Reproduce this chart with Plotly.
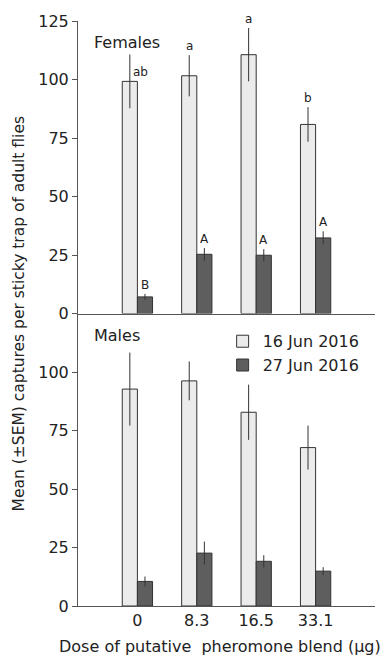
import plotly.graph_objects as go
from plotly.subplots import make_subplots

doses = ["0", "8.3", "16.5", "33.1"]
series_names = ["16 Jun 2016", "27 Jun 2016"]

fem_jun16 = [99.2, 101.6, 110.6, 80.8]
fem_jun16_sem = [11.5, 8.8, 11.4, 7.4]
fem_jun27 = [7.1, 25.3, 24.9, 32.3]
fem_jun27_sem = [1.3, 2.7, 2.6, 2.8]

male_jun16 = [92.7, 96.2, 82.8, 67.7]
male_jun16_sem = [15.6, 8.3, 11.8, 9.4]
male_jun27 = [10.5, 22.6, 19.1, 14.9]
male_jun27_sem = [2.1, 4.9, 2.6, 1.7]

fem_jun16_letters = ["ab", "a", "a", "b"]
fem_jun27_letters = ["B", "A", "A", "A"]

y_ticks_top = [0, 25, 50, 75, 100, 125]
y_ticks_bottom = [0, 25, 50, 75, 100]

FONT = "DejaVu Sans"
TXT = "#222222"
LIGHT = "#ebebeb"
DARK = "#5e5e5e"
EDGE = "#333333"
xpos = list(range(len(doses)))

fig = make_subplots(rows=2, cols=1, shared_xaxes=True, vertical_spacing=0)

def add_pair(row, v1, e1, v2, e2, show):
    fig.add_trace(go.Bar(x=xpos, y=v1, name=series_names[0], marker=dict(color=LIGHT, line=dict(color=EDGE, width=1)),
                         error_y=dict(type="data", array=e1, color=EDGE, thickness=1, width=0),
                         showlegend=show, legendgroup="a"), row=row, col=1)
    fig.add_trace(go.Bar(x=xpos, y=v2, name=series_names[1], marker=dict(color=DARK, line=dict(color=EDGE, width=1)),
                         error_y=dict(type="data", array=e2, color=EDGE, thickness=1, width=0),
                         showlegend=show, legendgroup="b"), row=row, col=1)

add_pair(1, fem_jun16, fem_jun16_sem, fem_jun27, fem_jun27_sem, False)
add_pair(2, male_jun16, male_jun16_sem, male_jun27, male_jun27_sem, True)

off = 0.127
for i, lab in enumerate(fem_jun16_letters):
    if lab == "ab":
        fig.add_annotation(x=i - off, y=fem_jun16[i], text=lab, xref="x", yref="y", xanchor="left", yanchor="bottom",
                           xshift=1, showarrow=False, font=dict(family=FONT, size=12, color=TXT))
    else:
        fig.add_annotation(x=i - off, y=fem_jun16[i] + fem_jun16_sem[i], text=lab, xref="x", yref="y",
                           xanchor="center", yanchor="bottom", showarrow=False, font=dict(family=FONT, size=12, color=TXT))
for i, lab in enumerate(fem_jun27_letters):
    fig.add_annotation(x=i + off, y=fem_jun27[i] + fem_jun27_sem[i], text=lab, xref="x", yref="y",
                       xanchor="center", yanchor="bottom", showarrow=False, font=dict(family=FONT, size=12, color=TXT))

fig.add_annotation(x=0.047, y=0.9626, xref="paper", yref="paper", text="Females", xanchor="left", yanchor="middle",
                   showarrow=False, font=dict(family=FONT, size=16, color=TXT))
fig.add_annotation(x=0.047, y=0.4626, xref="paper", yref="paper", text="Males", xanchor="left", yanchor="middle",
                   showarrow=False, font=dict(family=FONT, size=16, color=TXT))
fig.add_annotation(x=-0.199, y=0.5, xref="paper", yref="paper", text="Mean (±SEM) captures per sticky trap of adult flies",
                   textangle=-90, xanchor="center", yanchor="middle", showarrow=False,
                   font=dict(family=FONT, size=15.5, color=TXT))
fig.add_annotation(x=0.478, y=-0.069, xref="paper", yref="paper", text="Dose of putative  pheromone blend (μg)",
                   xanchor="center", yanchor="middle", showarrow=False, font=dict(family=FONT, size=16, color=TXT))

axis_common = dict(showline=True, linecolor="#555555", linewidth=1, showgrid=False, zeroline=False)
fig.update_xaxes(range=[-1, 4], tickvals=xpos, ticktext=doses, ticks="", **axis_common)
fig.update_xaxes(showticklabels=False, row=1, col=1)
fig.update_yaxes(range=[0, 125], ticks="outside", ticklen=5, tickcolor="#555555", **axis_common)
fig.update_yaxes(tickvals=y_ticks_top, row=1, col=1)
fig.update_yaxes(tickvals=y_ticks_bottom, row=2, col=1)

fig.update_layout(
    width=392, height=657,
    margin=dict(l=78, r=17, t=18, b=51),
    barmode="group", bargap=0.49, bargroupgap=0,
    plot_bgcolor="white", paper_bgcolor="white",
    font=dict(family=FONT, size=16, color=TXT),
    showlegend=True,
    legend=dict(x=0.487, y=0.4815, xanchor="left", yanchor="top", bgcolor="rgba(0,0,0,0)",
                font=dict(family=FONT, size=16, color=TXT), tracegroupgap=0, itemwidth=30),
)

fig.write_html("out.html", config={"displayModeBar": False},
               post_script="document.body.style.margin='0';document.body.style.overflow='hidden';")
